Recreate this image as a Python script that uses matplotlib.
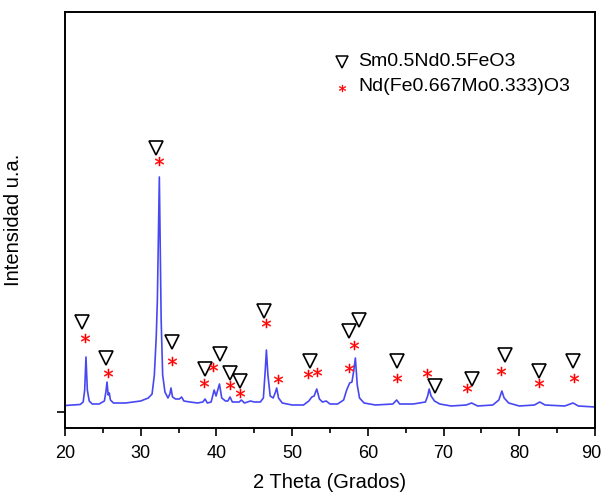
import matplotlib
matplotlib.use("Agg")
import matplotlib.pyplot as plt
import matplotlib.transforms as mtransforms

plt.rcParams['font.family'] = ['Liberation Sans', 'DejaVu Sans']

# XRD curve (2theta, intensity a.u.)
two_theta = [20.0, 21.0, 22.0, 22.4, 22.6, 22.77, 22.95, 23.2, 23.6, 24.5,
             25.2, 25.4, 25.55, 25.7, 25.85, 26.0, 26.4, 28.0, 30.0, 31.0,
             31.5, 31.8, 32.05, 32.2, 32.46, 32.7, 32.9, 33.2, 33.6, 33.85,
             34.0, 34.2, 34.6, 35.1, 35.4, 35.7, 36.5, 37.5, 38.2, 38.5,
             38.8, 39.3, 39.7, 39.95, 40.4, 40.7, 41.2, 41.5, 41.8, 42.1,
             43.0, 43.3, 43.7, 44.5, 45.0, 45.8, 46.2, 46.45, 46.6, 46.8,
             47.1, 47.5, 47.8, 47.96, 48.2, 48.7, 50.0, 51.5, 52.2, 52.6,
             52.9, 53.25, 53.6, 54.0, 54.5, 55.0, 56.0, 56.8, 57.2, 57.6,
             57.9, 58.15, 58.35, 58.6, 58.9, 59.5, 61.0, 63.3, 63.8, 64.2,
             66.0, 67.6, 67.9, 68.1, 68.35, 68.8, 69.5, 71.0, 73.0, 73.7,
             74.5, 76.5, 77.3, 77.7, 78.0, 78.6, 80.0, 82.0, 82.7, 83.4,
             86.0, 87.1, 87.8, 90.0]
intensity = [65, 70, 75, 100, 220, 550, 220, 110, 80, 80,
             110, 200, 300, 170, 190, 120, 90, 90, 110, 140,
             180, 370, 750, 1120, 2350, 920, 370, 200, 140, 180,
             240, 150, 130, 130, 150, 110, 100, 90, 100, 130,
             90, 100, 220, 160, 280, 140, 110, 110, 150, 100,
             100, 120, 90, 110, 100, 100, 140, 420, 620, 370,
             160, 140, 200, 240, 140, 90, 70, 70, 110, 150,
             160, 230, 130, 100, 110, 80, 80, 120, 220, 290,
             300, 420, 540, 270, 140, 90, 70, 80, 120, 80,
             80, 100, 160, 230, 160, 110, 80, 60, 70, 90,
             60, 70, 120, 210, 140, 90, 60, 70, 100, 70,
             60, 90, 60, 50]

# Phase markers
tri_x = [22.25, 25.42, 32.02, 34.13, 38.49, 40.47, 41.79, 43.11, 46.28, 52.36,
         57.51, 58.83, 63.85, 68.87, 73.76, 78.11, 82.60, 87.10]
tri_y = [900, 540, 2640, 700, 430, 580, 390, 310, 1010, 510,
         810, 920, 510, 260, 330, 570, 410, 510]
ast_x = [22.68, 25.64, 32.42, 34.13, 38.36, 39.59, 41.79, 43.15, 46.51, 48.09,
         52.13, 53.24, 57.51, 58.17, 63.89, 67.81, 73.13, 77.63, 82.61, 87.23]
ast_y = [737, 393, 2510, 513, 293, 447, 270, 193, 893, 333,
         380, 397, 440, 670, 343, 387, 243, 410, 293, 343]

phase1 = "Sm0.5Nd0.5FeO3"
phase2 = "Nd(Fe0.667Mo0.333)O3"
x_ticks = [20, 30, 40, 50, 60, 70, 80, 90]

fig = plt.figure(figsize=(6.03, 4.93), dpi=100)
ax = fig.add_axes([65/603, 65/493, 530/603, 416/493])

ax.plot(two_theta, intensity, color='#4848f2', lw=1.2)
ax.plot(tri_x, tri_y, linestyle='none', marker='v', markersize=9.5,
        markerfacecolor='white', markeredgecolor='black', markeredgewidth=1.2)
ax.plot(ast_x, ast_y, linestyle='none', marker='$*$', markersize=6.5,
        color='red', markeredgewidth=0.3)

ax.set_xlim(20, 90)
ax.set_ylim(-160, 4000)
ax.set_xticks(x_ticks)
ax.set_xticks([25, 35, 45, 55, 65, 75, 85], minor=True)
ax.set_yticks([0])
ax.set_yticklabels([])
ax.tick_params(axis='both', which='major', direction='out', length=6, width=1.2,
               labelsize=13, pad=6)
ax.tick_params(axis='x', which='minor', direction='out', length=3.5, width=1.2)
for s in ax.spines.values():
    s.set_linewidth(1.4)

# nudge the last tick label so it stays inside the picture
last = ax.get_xticklabels()[-1]
last.set_transform(last.get_transform() +
                   mtransforms.ScaledTranslation(-4/100, 0, fig.dpi_scale_trans))

ax.set_xlabel("2 Theta (Grados)", fontsize=14.5, labelpad=8)
ax.set_ylabel("Intensidad u.a.", fontsize=14.5, labelpad=18)

# legend drawn as text
lx = (342 - 65) / 530
ax.plot([lx], [0.880], transform=ax.transAxes, linestyle='none', marker='v',
        markersize=8, markerfacecolor='white', markeredgecolor='black',
        markeredgewidth=1.1, clip_on=False)
ax.plot([lx], [0.818], transform=ax.transAxes, linestyle='none', marker='$*$',
        markersize=5, color='red', markeredgewidth=0.3, clip_on=False)
tx = (358 - 65) / 530
ax.text(tx, 0.882, phase1, transform=ax.transAxes, fontsize=14, va='center', ha='left')
ax.text(tx, 0.822, phase2, transform=ax.transAxes, fontsize=14, va='center', ha='left')

fig.savefig("out.png", dpi=100)
